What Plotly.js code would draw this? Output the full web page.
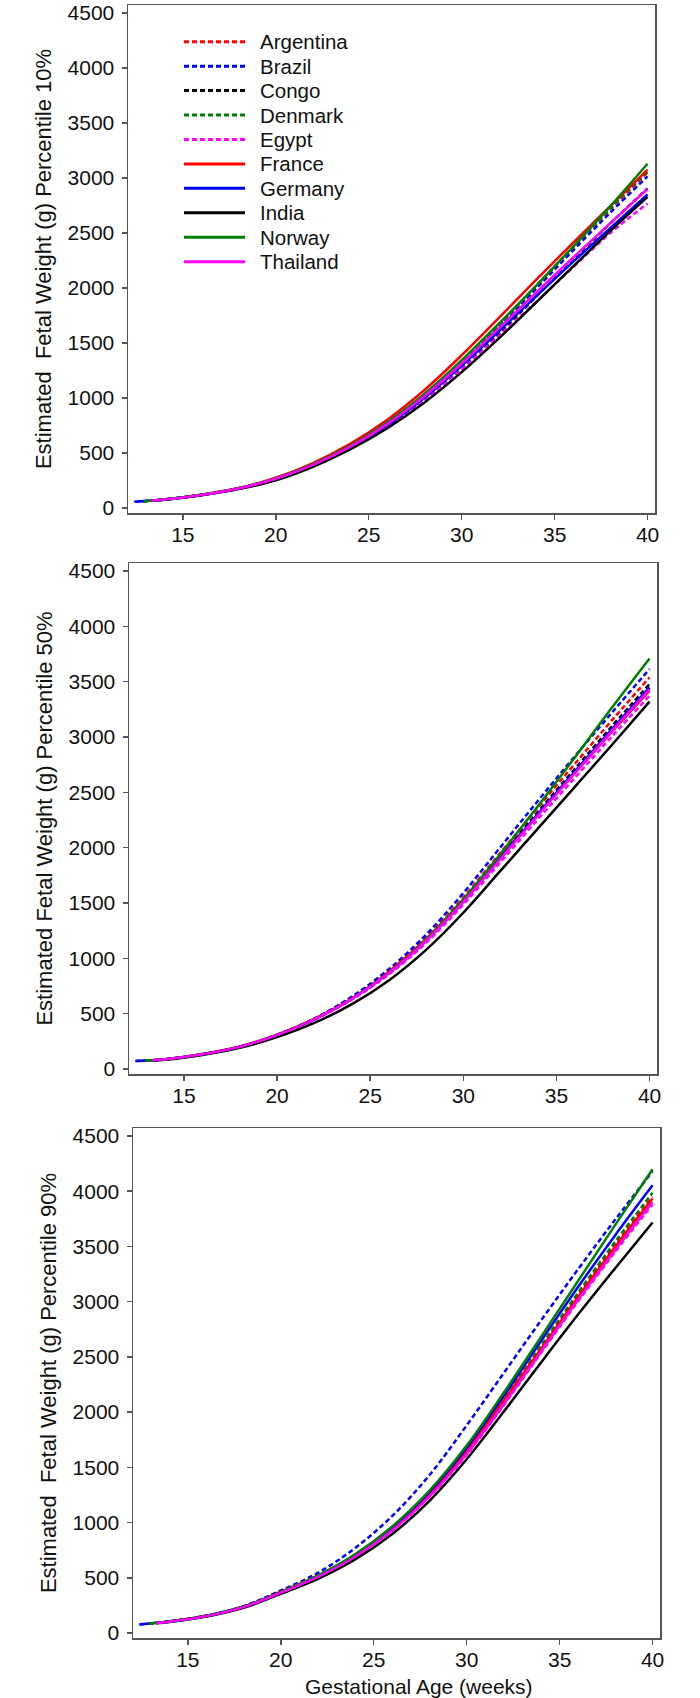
<!DOCTYPE html>
<html>
<head>
<meta charset="utf-8">
<script src="https://cdn.plot.ly/plotly-3.0.1.min.js"></script>
<style>
html,body{margin:0;padding:0;background:#fff;}
#chart{width:700px;height:1698px;}
</style>
</head>
<body>
<div id="chart"></div>
<script>
// ---------- data ----------
const countries = ["Argentina","Brazil","Congo","Denmark","Egypt","France","Germany","India","Norway","Thailand"];
const colors = ["#ff0000","#0000ff","#000000","#008000","#ff00ff","#ff0000","#0000ff","#000000","#008000","#ff00ff"];
const dashed = [true,true,true,true,true,false,false,false,false,false];
const startWeek = [13.3,12.4,13.3,12.9,13.3,13.3,12.4,13.3,12.9,13.3];
const weeks = [14,16,18,20,22,24,26,28,30,32,34,36,38,40];
const xTicks = [15,20,25,30,35,40];
const yTicks = [0,500,1000,1500,2000,2500,3000,3500,4000,4500];

// estimated fetal weight (g); first value is at startWeek, then at `weeks`
const p10Start = [66,57,66,62,66,67,57,65,62,66];
const p10 = {
  Argentina:[77,120,179,268,401,570,779,1032,1330,1661,2013,2368,2716,3050],
  Brazil:   [78,121,180,270,401,568,774,1024,1317,1645,1992,2342,2686,3015],
  Congo:    [76,118,175,262,388,549,747,988,1271,1586,1920,2257,2588,2905],
  Denmark:  [77,120,179,268,401,571,781,1034,1333,1666,2019,2376,2725,3060],
  Egypt:    [77,119,177,265,385,540,737,978,1261,1565,1872,2190,2500,2768],
  France:   [79,122,182,275,409,583,803,1073,1389,1729,2073,2413,2745,3075],
  Germany:  [77,119,177,265,389,549,753,1002,1294,1607,1925,2239,2545,2850],
  India:    [75,116,172,252,375,532,725,959,1235,1542,1868,2197,2519,2828],
  Norway:   [78,121,180,270,398,566,778,1038,1344,1676,2020,2376,2744,3129],
  Thailand: [77,119,178,266,392,556,763,1017,1314,1634,1957,2277,2589,2900]
};
const p50Start = [80,72,80,76,80,80,72,78,76,80];
const p50 = {
  Argentina:[88,134,201,307,455,644,885,1187,1551,1956,2361,2760,3154,3539],
  Brazil:   [89,135,203,310,456,652,902,1214,1590,2006,2422,2828,3224,3614],
  Congo:    [88,133,200,306,451,637,873,1170,1527,1925,2322,2714,3101,3479],
  Denmark:  [88,133,200,305,449,632,866,1159,1512,1904,2297,2684,3067,3440],
  Egypt:    [88,133,200,305,445,625,854,1140,1486,1870,2255,2633,3008,3373],
  France:   [89,135,203,310,452,634,880,1175,1530,1920,2300,2675,3050,3418],
  Germany:  [88,133,200,305,449,633,867,1161,1515,1909,2303,2691,3075,3449],
  India:    [84,127,191,288,416,584,800,1076,1412,1792,2172,2552,2932,3319],
  Norway:   [88,133,200,306,450,634,870,1170,1534,1944,2374,2818,3270,3710],
  Thailand: [88,133,200,306,449,632,865,1157,1508,1900,2291,2677,3058,3430]
};
const p90Start = [90,78,90,85,90,91,78,88,85,90];
const p90 = {
  Argentina:[104,155,238,372,518,702,945,1255,1644,2100,2582,3058,3514,3950],
  Brazil:   [106,158,244,385,545,770,1060,1430,1880,2355,2830,3295,3745,4180],
  Congo:    [104,154,237,369,514,698,940,1249,1636,2090,2570,3044,3499,3933],
  Denmark:  [104,155,238,370,517,704,949,1263,1655,2116,2603,3083,3545,3985],
  Egypt:    [103,154,236,366,509,690,929,1234,1615,2063,2536,3004,3452,3880],
  France:   [105,156,240,374,519,702,944,1265,1655,2110,2572,3045,3500,3933],
  Germany:  [104,155,238,368,518,708,958,1278,1678,2148,2644,3134,3604,4053],
  India:    [100,149,228,355,491,667,897,1197,1573,2005,2449,2885,3305,3717],
  Norway:   [104,155,238,371,521,713,965,1289,1697,2177,2681,3189,3697,4198],
  Thailand: [103,153,235,364,508,690,930,1237,1621,2071,2547,3017,3468,3899]
};
const panels = [
  {data:p10, start:p10Start, title:"Estimated  Fetal Weight (g) Percentile 10%"},
  {data:p50, start:p50Start, title:"Estimated Fetal Weight (g) Percentile 50%"},
  {data:p90, start:p90Start, title:"Estimated  Fetal Weight (g) Percentile 90%"}
];
const xTitle = "Gestational Age (weeks)";

// ---------- traces ----------
const traces = [];
panels.forEach((p, pi) => {
  countries.forEach((c, ci) => {
    traces.push({
      type: "scatter", mode: "lines",
      x: [startWeek[ci]].concat(weeks),
      y: [p.start[ci]].concat(p.data[c]),
      name: c,
      showlegend: false,
      xaxis: pi === 0 ? "x" : "x" + (pi + 1),
      yaxis: pi === 0 ? "y" : "y" + (pi + 1),
      line: {color: colors[ci], width: 2.5, shape: "spline", smoothing: 1,
             dash: dashed[ci] ? "5px,3px" : "solid"},
      hoverinfo: "skip"
    });
  });
});

// ---------- layout ----------
const W = 700, H = 1698;
const boxes = [
  {l:128, r:655, t:5,    b:513},
  {l:129, r:657, t:563,  b:1074},
  {l:133, r:660, t:1128, b:1638}
];
const font = "Liberation Sans, Arial, sans-serif";
function xa(i){
  const b = boxes[i];
  return {
    domain:[b.l/W, b.r/W], range:[12.05, 40.4],
    tickvals:xTicks, ticks:"outside", ticklen:5, tickwidth:1.5, tickcolor:"#555",
    showline:true, linecolor:"#555", linewidth:1.5, mirror:true,
    showgrid:false, zeroline:false, ticklabelstandoff:-3,
    tickfont:{family:font, size:21, color:"#111"},
    anchor: i===0 ? "y" : "y"+(i+1)
  };
}
function ya(i){
  const b = boxes[i];
  return {
    domain:[1-b.b/H, 1-b.t/H], range:[-45, 4572],
    tickvals:yTicks, ticks:"outside", ticklen:5, tickwidth:1.5, tickcolor:"#555",
    showline:true, linecolor:"#555", linewidth:1.5, mirror:true,
    showgrid:false, zeroline:false, ticklabelstandoff:3, ticklabeloverflow:"allow",
    tickfont:{family:font, size:21, color:"#111"},
    anchor: i===0 ? "x" : "x"+(i+1),
    title:{text:panels[i].title, font:{family:font, size:22, color:"#111"}, standoff:10}
  };
}

// legend drawn in panel 1 (keys + labels), built from the country arrays
const legTop = 41.7, legStep = 24.44, legX0 = 184, legX1 = 245, legText = 258;
const shapes = [], annotations = [];
countries.forEach((c, ci) => {
  const yy = 1 - (legTop + ci*legStep)/H;
  shapes.push({type:"line", xref:"paper", yref:"paper",
    x0:legX0/W, x1:legX1/W, y0:yy, y1:yy,
    line:{color:colors[ci], width:3, dash: dashed[ci] ? "5px,3px" : "solid"}});
  annotations.push({xref:"paper", yref:"paper", x:legText/W, y:yy,
    xanchor:"left", yanchor:"middle", showarrow:false, text:c,
    font:{family:font, size:20.5, color:"#111"}});
});
annotations.push({xref:"paper", yref:"paper", x:418.5/W, y:1-1686.5/H,
  xanchor:"center", yanchor:"middle", showarrow:false, text:xTitle,
  font:{family:font, size:21, color:"#111"}});

const layout = {
  width:W, height:H,
  margin:{l:0, r:0, t:0, b:0},
  paper_bgcolor:"#fff", plot_bgcolor:"#fff",
  showlegend:false,
  shapes:shapes, annotations:annotations,
  xaxis:xa(0), yaxis:ya(0),
  xaxis2:xa(1), yaxis2:ya(1),
  xaxis3:xa(2), yaxis3:ya(2)
};
Plotly.newPlot("chart", traces, layout, {staticPlot:true, displayModeBar:false});
</script>
</body>
</html>
